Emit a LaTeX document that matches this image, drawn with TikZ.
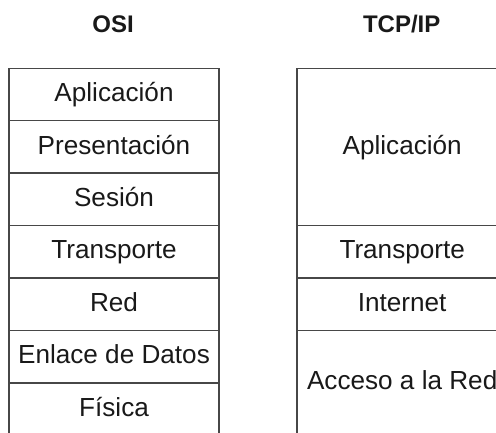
\documentclass[tikz,border=0pt]{standalone}
\usepackage{fontspec}
\setmainfont{Liberation Sans}
\begin{document}
\begin{tikzpicture}[x=0.75pt,y=-0.75pt,
        layer/.style={draw=black!72, line width=1.1pt, minimum width=157.5pt,
            inner sep=0pt, text height=14.6pt, text depth=3.9pt, text=black!90,
            font=\fontsize{19.6}{23}\selectfont},
        title/.style={anchor=base, text=black!90, font=\fontsize{18}{22}\selectfont\bfseries}]
    \useasboundingbox (0,0) rectangle (496,432);
    \clip (0,0) rectangle (496,432);
    % titles
    \node[title] (osi) at (113,32) {OSI};
    \node[title] (tcpip) at (401.7,32) {TCP/IP};
    % OSI column
    \node[layer, minimum height=39.3pt] (osiApp) at (114,94.5) {Aplicación};
    \node[layer, minimum height=39.3pt] (osiPres) at (114,146.9) {Presentación};
    \node[layer, minimum height=39.3pt] (osiSes) at (114,199.3) {Sesión};
    \node[layer, minimum height=39.3pt] (osiTrans) at (114,251.8) {Transporte};
    \node[layer, minimum height=39.3pt] (osiRed) at (114,304.2) {Red};
    \node[layer, minimum height=39.3pt] (osiEnl) at (114,356.6) {Enlace de Datos};
    \node[layer, minimum height=39.3pt] (osiFis) at (114,409) {Física};
    % TCP/IP column
    \node[layer, minimum height=118pt] (tcpApp) at (402.2,147) {Aplicación};
    \node[layer, minimum height=39.3pt] (tcpTrans) at (402.2,251.8) {Transporte};
    \node[layer, minimum height=39.3pt] (tcpInt) at (402.2,304.2) {Internet};
    \node[layer, minimum height=78.6pt] (tcpAcc) at (402.2,382.8) {Acceso a la Red};
\end{tikzpicture}
\end{document}
